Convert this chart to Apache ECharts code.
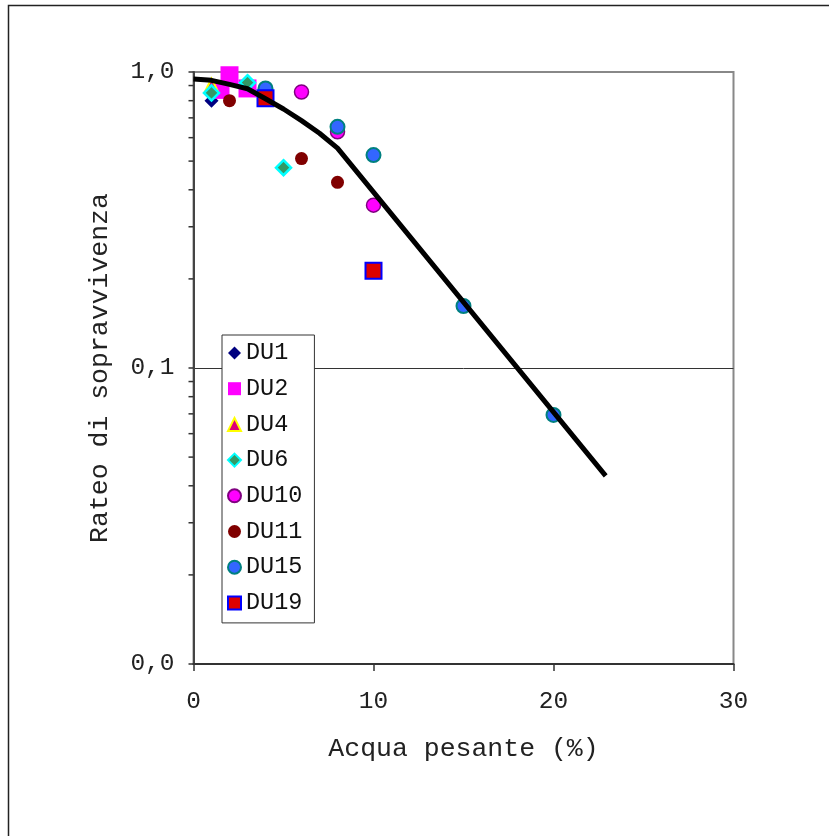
<!DOCTYPE html>
<html>
<head>
<meta charset="utf-8">
<script src="https://cdn.jsdelivr.net/npm/echarts@6/dist/echarts.min.js"></script>
<style>
html,body{margin:0;padding:0;background:#fff;}
#chart{width:829px;height:836px;}
</style>
</head>
<body>
<div id="chart"></div>
<script>
// ---- data ----
const seriesNames = ['DU1','DU2','DU4','DU6','DU10','DU11','DU15','DU19'];
const du1  = [[1, 0.80]];
const du2  = [[1.5, 0.87], [2, 0.975], [3, 0.88]];
const du4  = [[1, 0.90]];
const du6  = [[1, 0.85], [3, 0.92], [5, 0.475]];
const du10 = [[6, 0.856], [8, 0.628], [10, 0.355]];
const du11 = [[2, 0.80], [6, 0.51], [8, 0.424]];
const du15 = [[4, 0.88], [8, 0.653], [10, 0.524], [15, 0.162], [20, 0.0694]];
const du19 = [[4, 0.815], [10, 0.213]];
const fitX = [0, 1, 2, 3, 4, 5, 6, 7, 8, 22.9];
const fitY = [0.947, 0.937, 0.908, 0.878, 0.812, 0.75, 0.685, 0.621, 0.553, 0.0432];
const yMinorTicks = [0.02,0.03,0.04,0.05,0.06,0.07,0.08,0.09,0.2,0.3,0.4,0.5,0.6,0.7,0.8,0.9];
const xTickValues = [0, 10, 20, 30];

const FONT = '"Liberation Mono", "Courier New", monospace';
const chart = echarts.init(document.getElementById('chart'), null, {renderer:'canvas'});

function sc(name, data, symbol, size, color, borderColor, borderWidth){
  return {
    name: name, type: 'scatter', data: data, symbol: symbol, symbolSize: size,
    itemStyle: {color: color, borderColor: borderColor || color, borderWidth: borderWidth || 0, opacity: 1},
    emphasis: {disabled: true}, z: 3
  };
}

const option = {
  animation: false,
  backgroundColor: '#fff',
  graphic: [{
    type: 'rect', left: 6, top: 3, silent: true,
    shape: {width: 900, height: 900},
    style: {fill: 'none', stroke: '#222', lineWidth: 1.5}
  }],
  grid: {left: 193.5, right: 95.5, top: 72, bottom: 172, show: true, borderColor: '#888', borderWidth: 2, backgroundColor: 'transparent'},
  legend: {
    data: seriesNames, orient: 'vertical', left: 222, top: 335,
    padding: [6, 12, 8, 5], itemGap: 11.7, itemWidth: 13, itemHeight: 13, itemTextGap: 4,
    borderColor: '#333', borderWidth: 1, backgroundColor: '#fff',
    textStyle: {fontFamily: FONT, fontSize: 23.5, color: '#111', lineHeight: 24},
    selectedMode: false, z: 10
  },
  xAxis: {
    type: 'value', min: xTickValues[0], max: xTickValues[xTickValues.length-1], interval: 10,
    name: 'Acqua pesante (%)', nameLocation: 'middle', nameGap: 71,
    nameTextStyle: {fontFamily: FONT, fontSize: 26.5, color: '#222'},
    axisLine: {show: true, onZero: false, lineStyle: {color: '#333', width: 2}},
    axisTick: {show: true, length: 7, lineStyle: {color: '#333', width: 1.5}},
    axisLabel: {fontFamily: FONT, fontSize: 24.5, color: '#222', margin: 25},
    splitLine: {show: false}
  },
  yAxis: {
    type: 'log', logBase: 10, min: 0.01, max: 1,
    name: 'Rateo di sopravvivenza', nameLocation: 'middle', nameGap: 80,
    nameTextStyle: {fontFamily: FONT, fontSize: 26.5, color: '#222'},
    axisLine: {show: true, lineStyle: {color: '#444', width: 2}},
    axisTick: {show: true, length: 5, lineStyle: {color: '#333', width: 1.5}},
    axisLabel: {fontFamily: FONT, fontSize: 24.5, color: '#222', margin: 19,
      formatter: function(v){ return v.toFixed(1).replace('.', ','); }},
    splitLine: {show: true, showMinLine: false, showMaxLine: false, lineStyle: {color: '#333', width: 1}}
  },
  series: [
    sc('DU1', du1, 'diamond', 14, '#000080'),
    sc('DU2', du2, 'rect', 18, '#ff00ff'),
    sc('DU4', du4, 'triangle', 14, '#dd0077', '#ffff00', 2),
    sc('DU6', du6, 'diamond', 15, '#339966', '#00ffff', 2.5),
    sc('DU10', du10, 'circle', 14, '#ff00ff', '#800080', 1.5),
    sc('DU11', du11, 'circle', 13, '#800000'),
    sc('DU15', du15, 'circle', 14, '#3366ff', '#008080', 2),
    sc('DU19', du19, 'rect', 16, '#dd0000', '#0000ff', 2),
    {
      name: 'fit', type: 'line', data: fitX.map(function(x, i){ return [x, fitY[i]]; }),
      showSymbol: false, symbol: 'none', smooth: false,
      lineStyle: {color: '#000', width: 5}, z: 5, emphasis: {disabled: true}, silent: true
    },
    {
      name: 'minorTicks', type: 'custom', silent: true, clip: false, z: 6,
      data: yMinorTicks.map(function(v){ return [0, v]; }),
      renderItem: function(params, api){
        const p = api.coord([api.value(0), api.value(1)]);
        return {type: 'line', shape: {x1: p[0] - 5, y1: p[1], x2: p[0], y2: p[1]},
                style: {stroke: '#333', lineWidth: 1.5}};
      }
    }
  ]
};
chart.setOption(option);
</script>
</body>
</html>
